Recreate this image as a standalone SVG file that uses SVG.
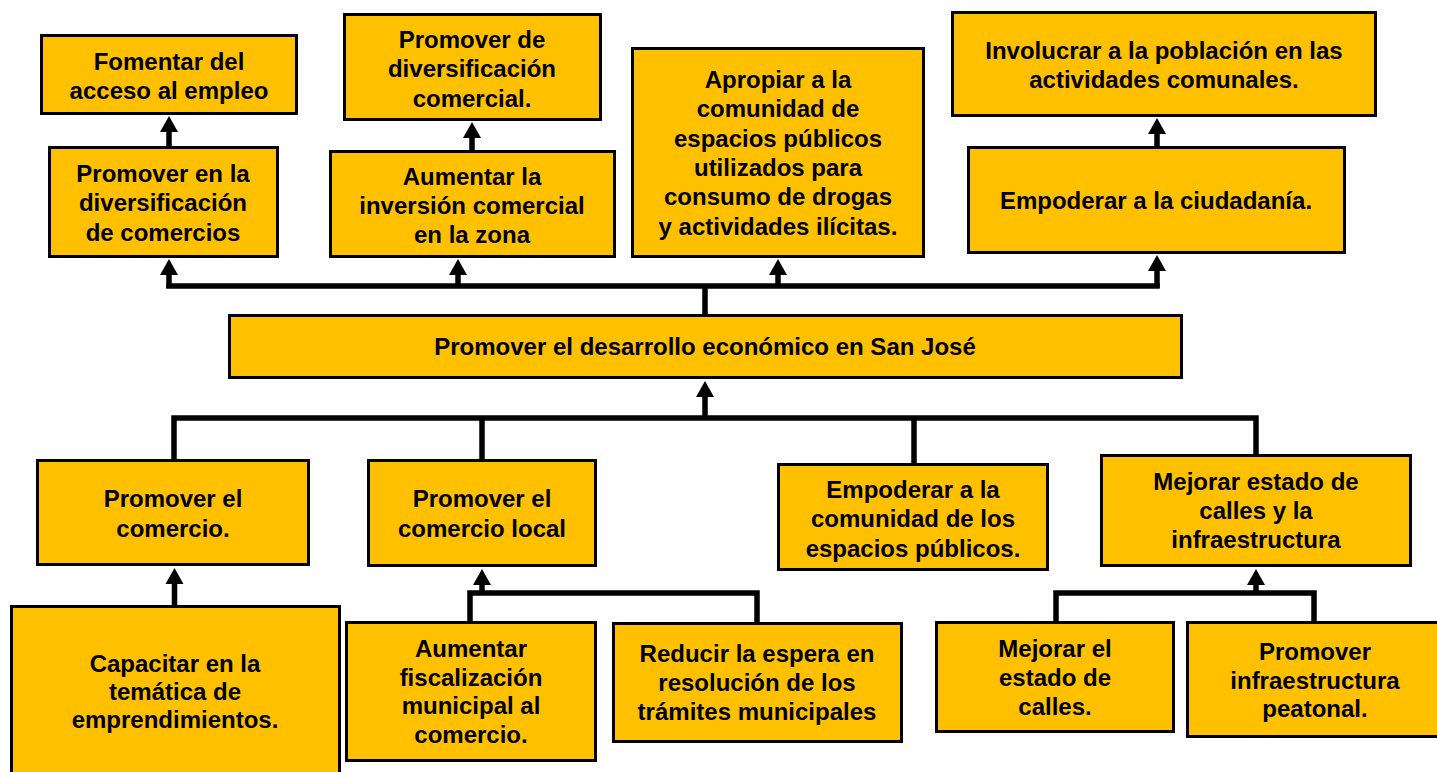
<svg xmlns="http://www.w3.org/2000/svg" width="1437" height="772" viewBox="0 0 1437 772">
<style>
.box{fill:#FFC000;stroke:#000;stroke-width:3}
.t{font-family:"Liberation Sans",Arial,sans-serif;font-weight:bold;font-size:24px;fill:#000;text-anchor:middle}
.s{font-size:24px}
.c{fill:none;stroke:#000;stroke-width:5.5;stroke-linejoin:miter;stroke-linecap:square}
.a{fill:none;stroke:#000;stroke-width:5.5;stroke-linecap:butt}
</style>
<defs>
<marker id="ah" markerUnits="userSpaceOnUse" markerWidth="16" markerHeight="18" viewBox="0 0 16 18" refX="0" refY="9" orient="auto" overflow="visible">
<path d="M0,0 L16,9 L0,18 Z" fill="#000"/>
</marker>
</defs>
<rect width="1437" height="772" fill="#fff"/>
<g id="connectors">
<path class="c" d="M169,286 H1157"/>
<path class="a" d="M705,314 V286"/>
<path class="a" d="M169,288 V275" marker-end="url(#ah)"/>
<path class="a" d="M458,288 V275" marker-end="url(#ah)"/>
<path class="a" d="M778,288 V275" marker-end="url(#ah)"/>
<path class="a" d="M1157,288 V271" marker-end="url(#ah)"/>
<path class="a" d="M169,146 V132" marker-end="url(#ah)"/>
<path class="a" d="M472,150 V138" marker-end="url(#ah)"/>
<path class="a" d="M1157,146 V134" marker-end="url(#ah)"/>
<path class="c" d="M174,459 V418 H1256 V454"/>
<path class="a" d="M482,418 V459"/>
<path class="a" d="M914,418 V463"/>
<path class="a" d="M705,420 V397" marker-end="url(#ah)"/>
<path class="a" d="M174.5,605 V584" marker-end="url(#ah)"/>
<path class="c" d="M470,621 V593 H757 V622"/>
<path class="a" d="M482,595 V585" marker-end="url(#ah)"/>
<path class="c" d="M1056,621 V593 H1314 V621"/>
<path class="a" d="M1256,595 V585" marker-end="url(#ah)"/>
</g>
<g id="n1"><rect class="box" x="41.5" y="35.5" width="255" height="78"/>
<text class="t" x="169" y="70">Fomentar del</text><text class="t" x="169" y="99">acceso al empleo</text></g>
<g id="n2"><rect class="box" x="49.5" y="147.5" width="228" height="109"/>
<text class="t" x="163" y="182">Promover en la</text><text class="t" x="163" y="211">diversificación</text><text class="t" x="163" y="241">de comercios</text></g>
<g id="n3"><rect class="box" x="344.5" y="14.5" width="256" height="105"/>
<text class="t" x="472" y="48">Promover de</text><text class="t" x="472" y="77">diversificación</text><text class="t" x="472" y="107">comercial.</text></g>
<g id="n4"><rect class="box" x="330.5" y="151.5" width="284" height="105"/>
<text class="t" x="472" y="185">Aumentar la</text><text class="t" x="472" y="214">inversión comercial</text><text class="t" x="472" y="243">en la zona</text></g>
<g id="n5"><rect class="box" x="632.5" y="48.5" width="291" height="208"/>
<text class="t" x="778" y="88">Apropiar a la</text><text class="t" x="778" y="117">comunidad de</text><text class="t" x="778" y="147">espacios públicos</text><text class="t" x="778" y="176">utilizados para</text><text class="t" x="778" y="205">consumo de drogas</text><text class="t" x="778" y="235">y actividades ilícitas.</text></g>
<g id="n6"><rect class="box" x="952.5" y="12.5" width="423" height="103"/>
<text class="t" x="1164" y="59">Involucrar a la población en las</text><text class="t" x="1164" y="88">actividades comunales.</text></g>
<g id="n7"><rect class="box" x="968.5" y="147.5" width="376" height="105"/>
<text class="t" x="1156" y="209">Empoderar a la ciudadanía.</text></g>
<g id="main"><rect class="box" x="229.5" y="315.5" width="952" height="62"/>
<text class="t" x="705" y="355">Promover el desarrollo económico en San José</text></g>
<g id="c1"><rect class="box" x="37.5" y="460.5" width="271" height="104"/>
<text class="t s" x="173" y="507">Promover el</text><text class="t s" x="173" y="537">comercio.</text></g>
<g id="c2"><rect class="box" x="368.5" y="460.5" width="227" height="105"/>
<text class="t s" x="482" y="507">Promover el</text><text class="t s" x="482" y="537">comercio local</text></g>
<g id="c3"><rect class="box" x="778.5" y="464.5" width="269" height="105"/>
<text class="t s" x="913" y="498">Empoderar a la</text><text class="t s" x="913" y="527">comunidad de los</text><text class="t s" x="913" y="557">espacios públicos.</text></g>
<g id="c4"><rect class="box" x="1101.5" y="455.5" width="309" height="110"/>
<text class="t s" x="1256" y="490">Mejorar estado de</text><text class="t s" x="1256" y="519">calles y la</text><text class="t s" x="1256" y="548">infraestructura</text></g>
<g id="d1"><rect class="box" x="11.5" y="606.5" width="328" height="180"/>
<text class="t s" x="175" y="672">Capacitar en la</text><text class="t s" x="175" y="700">temática de</text><text class="t s" x="175" y="728">emprendimientos.</text></g>
<g id="d2"><rect class="box" x="346.5" y="622.5" width="249" height="138"/>
<text class="t s" x="471" y="657">Aumentar</text><text class="t s" x="471" y="686">fiscalización</text><text class="t s" x="471" y="714">municipal al</text><text class="t s" x="471" y="743">comercio.</text></g>
<g id="d3"><rect class="box" x="613.5" y="623.5" width="288" height="118"/>
<text class="t s" x="757" y="662">Reducir la espera en</text><text class="t s" x="757" y="691">resolución de los</text><text class="t s" x="757" y="720">trámites municipales</text></g>
<g id="d4"><rect class="box" x="936.5" y="622.5" width="237" height="109"/>
<text class="t s" x="1055" y="657">Mejorar el</text><text class="t s" x="1055" y="686">estado de</text><text class="t s" x="1055" y="715">calles.</text></g>
<g id="d5"><rect class="box" x="1187.5" y="622.5" width="260" height="114"/>
<text class="t s" x="1315" y="660">Promover</text><text class="t s" x="1315" y="689">infraestructura</text><text class="t s" x="1315" y="717">peatonal.</text></g>
</svg>
